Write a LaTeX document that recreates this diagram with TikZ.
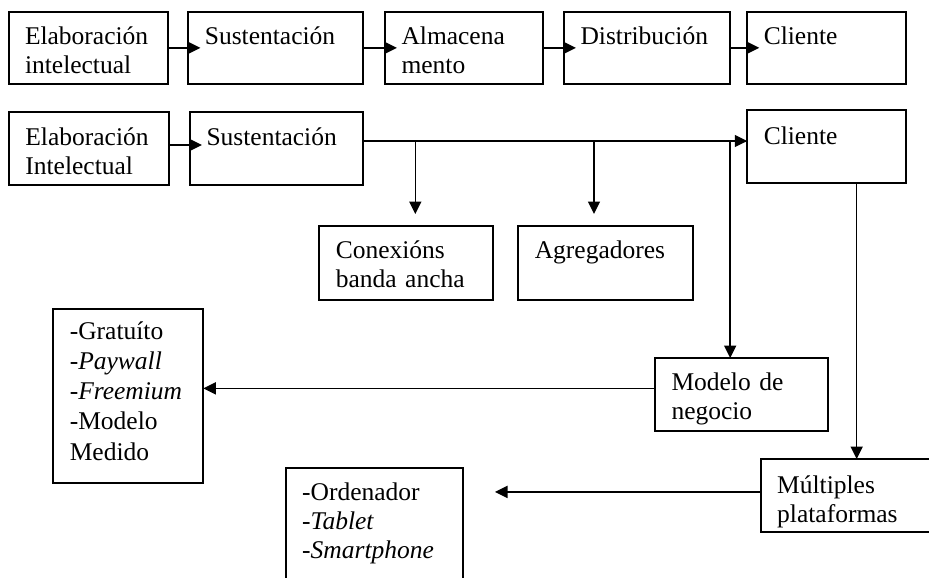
\documentclass[tikz,border=0pt]{standalone}
\usepackage{fontspec}
\setmainfont{Liberation Serif}
\usetikzlibrary{arrows.meta}
\tikzset{
  % box={width}{height}{offset of the first baseline below the top edge}
  box/.code n args={3}{%
    \pgfmathsetmacro\boxtw{#1-33}%
    \pgfmathsetmacro\boxtd{#2-#3}%
    \edef\boxkeys{\noexpand\pgfkeysalso{text width=\boxtw pt, text height=#3pt, text depth=\boxtd pt}}%
    \boxkeys},
  frame/.style={draw, line width=2pt, anchor=north west, inner xsep=16.5pt,
    inner ysep=0pt, outer sep=0pt, align=left,
    font=\fontsize{25.5}{29}\selectfont},
  link/.style={line width=1.6pt, -{Triangle[length=12.5pt,width=12pt]}},
  into/.style={shorten >=-12pt},
}
\begin{document}
\begin{tikzpicture}[x=1pt, y=-1pt]
\fill[white] (0,0) rectangle (929,578);
\useasboundingbox (0,0) rectangle (929,578);
\clip (0,0) rectangle (929,578);

% first chain
\node[frame, box={159}{72.3}{33.3}] (e1) at (8.5,11.7) {Elaboración\\intelectual};
\node[frame, box={174.2}{72.3}{33.3}] (s1) at (188.4,11.7) {Sustentación};
\node[frame, box={157.7}{72.3}{33.3}] (a1) at (385,11.7) {Almacena\\mento};
\node[frame, box={165.6}{72.3}{33.3}] (d1) at (564,11.7) {Distribución};
\node[frame, box={158.7}{72.3}{33.3}] (c1) at (747.3,11.7) {Cliente};

\draw[link, into] (e1.east) -- (s1.west);
\draw[link, into] (s1.east) -- (a1.west);
\draw[link, into] (a1.east) -- (d1.west);
\draw[link, into] (d1.east) -- (c1.west);

% second chain
\node[frame, box={160}{73.3}{33.3}] (e2) at (8.9,111.7) {Elaboración\\Intelectual};
\node[frame, box={173.3}{73.3}{33.3}] (s2) at (190,111.7) {Sustentación};
\node[frame, box={158.7}{73.3}{34}] (c2) at (747.3,110) {Cliente};
\node[frame, box={174}{74}{32.3}] (con) at (319.3,226) {Conexións\\banda ancha};
\node[frame, box={174.4}{74}{32.3}] (agr) at (518.3,226) {Agregadores};
\node[frame, box={150}{173.7}{30}, font=\fontsize{25.5}{30.3}\selectfont] (gra) at (53.3,309)
  {-Gratuíto\\-\textit{Paywall}\\-\textit{Freemium}\\-Modelo\\Medido};
\node[frame, box={173.3}{72.7}{32}] (mod) at (655,358) {Modelo de\\negocio};
\node[frame, box={176}{72.7}{34.3}] (mul) at (760.7,459) {Múltiples\\plataformas};
\node[frame, box={177.6}{130}{32.4}] (ord) at (285.7,468.3)
  {-Ordenador\\-\textit{Tablet}\\-\textit{Smartphone}};

\draw[link, into] ([yshift=3.35pt]e2.east) -- ([yshift=3.35pt]s2.west);

\coordinate (bus) at ([yshift=7.35pt]s2.east);
\draw[link] (bus) -- (bus -| c2.west);

\coordinate (ctop) at ([xshift=9pt]con.north);
\coordinate (atop) at ([xshift=-11.5pt]agr.north);
\coordinate (mtop) at ([xshift=-11.5pt]mod.north);
\draw[link, shorten >=12pt] (bus -| ctop) -- (ctop);
\draw[link, shorten >=12pt] (bus -| atop) -- (atop);
\draw[link] (bus -| mtop) -- (mtop);

\draw[link] ([yshift=6pt]mod.west) -- ([yshift=6pt]mod.west -| gra.east);

\coordinate (cbot) at ([xshift=30pt]c2.south);
\draw[link] (cbot) -- (cbot |- mul.north);

\draw[link, shorten >=31.7pt] ([yshift=3.4pt]mul.west) -- ([yshift=3.4pt]mul.west -| ord.east);
\end{tikzpicture}
\end{document}
